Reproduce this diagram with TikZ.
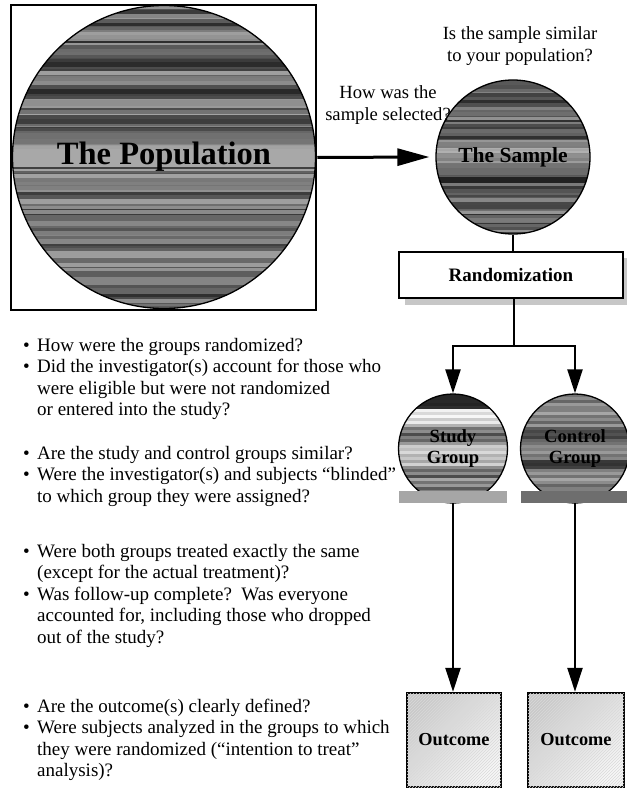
\documentclass[tikz,border=0pt]{standalone}
\usepackage{fontspec}
\setmainfont{Liberation Serif}
\usetikzlibrary{arrows.meta,patterns}
\newcommand\qbul{\makebox[14pt][l]{\textbullet}}
\newcommand\qind{\hspace*{14pt}}
\begin{document}
\begin{tikzpicture}[x=1pt,y=-1pt,
  conn/.style={line width=2.4pt},
  arr/.style={line width=2.4pt,-{Triangle[length=24pt,width=15pt]}},
  bigarr/.style={line width=3pt,-{Triangle[length=32pt,width=17pt]}},
  % multi-line nodes are placed by the baseline of their last line
  qtext/.style={font=\fontsize{19}{21.6}\selectfont,align=left,inner sep=0pt,anchor=base west},
  ctext/.style={font=\fontsize{18.6}{21.6}\selectfont,align=center,inner sep=0pt,anchor=base},
  blbl/.style={font=\bfseries\fontsize{18.6}{21}\selectfont,align=center},
  ring/.style={circle,draw,line width=1.3pt,inner sep=0pt},
  outbox/.style={draw,line width=2.4pt,minimum height=94pt,inner sep=0pt,
    font=\bfseries\fontsize{18.3}{21}\selectfont,
    top color=black!21,bottom color=black!3,shading angle=45,
    postaction={pattern=north east lines,pattern color=white!85!black}},
  groupbar/.style={minimum width=108pt,minimum height=12pt,inner sep=0pt}
]
\useasboundingbox (0,0) rectangle (626,789);
\fill[white] (0,0) rectangle (626,789);

% ---- striped population disc
\pgfmathsetseed{11}
\begin{scope}
  \clip (164,157) circle[radius=151.5];
  \foreach \k in {122,121,...,0}{
    \pgfmathsetmacro\yy{5+2.5*\k}
    \pgfmathsetmacro\hh{2.5+5*rnd}
    \pgfmathtruncatemacro\gg{36+50*rnd}
    \fill[black!\gg] (10,\yy) rectangle (320,\yy+\hh);
  }
  \fill[black!34] (10,149) rectangle (320,167);
\end{scope}

% ---- striped sample disc
\pgfmathsetseed{5}
\begin{scope}
  \clip (513,157) circle[radius=77];
  \foreach \k in {78,77,...,0}{
    \pgfmathsetmacro\yy{79+2*\k}
    \pgfmathsetmacro\hh{2+4*rnd}
    \pgfmathtruncatemacro\gg{40+48*rnd}
    \fill[black!\gg] (430,\yy) rectangle (595,\yy+\hh);
  }
  \foreach \k in {14,13,...,0}{
    \pgfmathsetmacro\yy{142+2*\k}
    \pgfmathsetmacro\hh{2+3*rnd}
    \pgfmathtruncatemacro\gg{30+30*rnd}
    \fill[black!\gg] (430,\yy) rectangle (595,\yy+\hh);
  }
\end{scope}

% ---- striped study group disc
\begin{scope}
  \clip (453,448.5) circle[radius=54.5];
  \foreach \g [count=\i from 0] in {85,85,84,86,82,5,15,3,20,8,30,55,45,70,50,60,40,20,25,15,30,22,35,18,45,60,45,70,35,55,40,65,50,50,50,50}{
    \fill[black!\g] (396,394+3*\i) rectangle (510,397.2+3*\i);
  }
\end{scope}

% ---- striped control group disc
\begin{scope}
  \clip (575,448.5) circle[radius=54.5];
  \foreach \g [count=\i from 0] in {55,45,60,40,50,50,35,55,45,60,40,65,72,68,75,60,55,45,50,40,55,48,78,80,75,50,40,55,35,45,60,50,50,50,50,50}{
    \fill[black!\g] (518,394+3*\i) rectangle (632,397.2+3*\i);
  }
\end{scope}

% ---- population frame and discs
\node[draw,line width=2.5pt,minimum width=305pt,minimum height=305pt,inner sep=0pt] (pop) at (163.5,157.5) {};
\node[ring,minimum size=303pt,font=\bfseries\fontsize{32.5}{36}\selectfont] (popc) at (164,157) {The Population};
\node[ring,minimum size=154pt,font=\bfseries\fontsize{21.5}{24}\selectfont] (sample) at (513,157) {The Sample};

\draw[bigarr] (pop.east) -- ([xshift=-6pt]sample.west);

% ---- questions beside the sample
\node[ctext] (qsim) at (520,61.1) {Is the sample similar\\to your population?};
\node[ctext] (qsel) at (388,120.1) {How was the\\sample selected?};

% ---- randomization box with its shadow
\fill[black!22] (405,258) rectangle (630,305);
\node[draw,line width=2.4pt,fill=white,minimum width=224pt,minimum height=46pt,inner sep=0pt,
  font=\bfseries\fontsize{19}{21}\selectfont] (rand) at (511,275) {Randomization};

% ---- the two groups
\node[ring,blbl,minimum size=109pt] (study) at (453,448.5) {Study\\Group};
\node[ring,blbl,minimum size=109pt] (control) at (575,448.5) {Control\\Group};
\node[groupbar,fill=black!35] (bar1) at (453,497) {};
\node[groupbar,fill=black!57] (bar2) at (575,497) {};

% ---- outcomes
\node[outbox,minimum width=94pt] (out1) at (454,740) {Outcome};
\node[outbox,minimum width=96pt] (out2) at (576,740) {Outcome};

% ---- connectors
\coordinate (split) at (514,346);
\draw[conn] (sample.south) -- (sample.south |- rand.north);
\draw[conn] (split |- rand.south) -- (split);
\draw[arr] (split) -| (study.north);
\draw[arr] (split) -| (control.north);
\draw[arr] (bar1.south) -- (bar1.south |- out1.north);
\draw[arr] (bar2.south) -- (bar2.south |- out2.north);

% ---- appraisal questions
\node[qtext] (g1) at (23,415.8) {\qbul How were the groups randomized?\\\qbul Did the investigator(s) account for those who\\\qind were eligible but were not randomized\\\qind or entered into the study?};
\node[qtext] (g2) at (23,502.2) {\qbul Are the study and control groups similar?\\\qbul Were the investigator(s) and subjects “blinded”\\\qind to which group they were assigned?};
\node[qtext] (g3) at (23,643.4) {\qbul Were both groups treated exactly the same\\\qind (except for the actual treatment)?\\\qbul Was follow-up complete?\ \ Was everyone\\\qind accounted for, including those who dropped\\\qind out of the study?};
\node[qtext] (g4) at (23,776.8) {\qbul Are the outcome(s) clearly defined?\\\qbul Were subjects analyzed in the groups to which\\\qind they were randomized (“intention to treat”\\\qind analysis)?};
\end{tikzpicture}
\end{document}
